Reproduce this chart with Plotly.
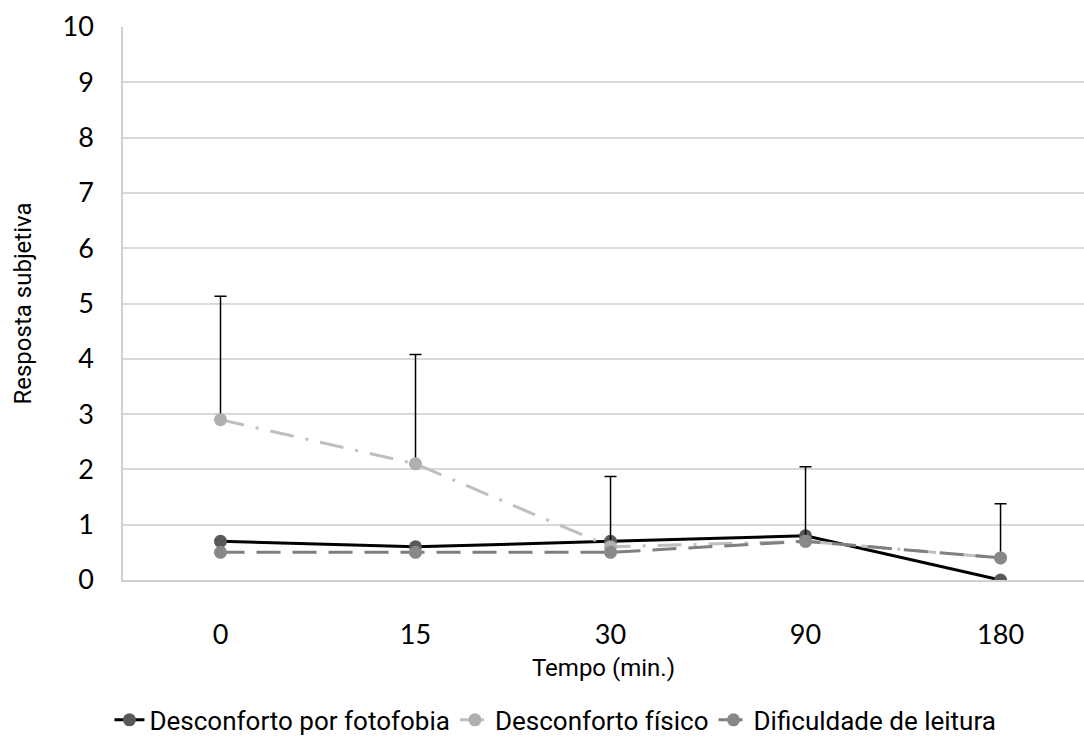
import plotly.graph_objects as go

categories = ["0", "15", "30", "90", "180"]
fotofobia = [0.7, 0.6, 0.7, 0.8, 0.0]
fisico = [2.9, 2.1, 0.6, 0.7, 0.4]
fisico_err = [2.23, 1.98, 1.27, 1.35, 0.98]
leitura = [0.5, 0.5, 0.5, 0.7, 0.4]
y_ticks = list(range(0, 11))

narrow = "Roboto, sans-serif"
tickfont = "Lato, Open Sans, sans-serif"

fig = go.Figure()
fig.add_trace(go.Scatter(
    x=categories, y=fotofobia, name="Desconforto por fotofobia",
    mode="lines+markers",
    line=dict(color="#000000", width=3),
    marker=dict(color="#595959", size=13),
))
fig.add_trace(go.Scatter(
    x=categories, y=fisico, name="Desconforto físico",
    mode="lines+markers",
    line=dict(color="#BFBFBF", width=3, dash="24px,12px,3px,12px"),
    marker=dict(color="#AFAFAF", size=13),
    error_y=dict(type="data", symmetric=False, array=fisico_err,
                 arrayminus=[0] * len(fisico_err), color="#000000",
                 thickness=1.5, width=6),
))
fig.add_trace(go.Scatter(
    x=categories, y=leitura, name="Dificuldade de leitura",
    mode="lines+markers",
    line=dict(color="#7F7F7F", width=3, dash="24px,12px"),
    marker=dict(color="#888888", size=13),
))

fig.update_layout(
    width=1084, height=738,
    margin=dict(l=123, r=0, t=27, b=158, autoexpand=False),
    paper_bgcolor="white", plot_bgcolor="white",
    showlegend=True,
    legend=dict(orientation="h", x=0.45, xanchor="center",
                y=-0.253, yanchor="middle",
                font=dict(family=narrow, size=26, color="#000000"),
                tracegroupgap=0),
    font=dict(family=tickfont, color="#000000"),
)
fig.update_xaxes(
    type="category", range=[-0.5, 4.428],
    showgrid=False, showline=True, linecolor="#D0D0D0", linewidth=1.5,
    ticks="", tickfont=dict(family=tickfont, size=27, color="#000000"),
    ticklabelstandoff=30,
    title=dict(text="Tempo (min.)", font=dict(family=narrow, size=24, color="#000000"), standoff=10),
)
fig.update_yaxes(
    range=[0, 10], tickvals=y_ticks, ticktext=[str(v) for v in y_ticks],
    showgrid=True, gridcolor="#D9D9D9", gridwidth=1.5,
    showline=True, linecolor="#D0D0D0", linewidth=1.5,
    zeroline=False, ticks="", ticklen=0,
    ticklabelstandoff=22,
    tickfont=dict(family=tickfont, size=27, color="#000000"),
    title=dict(text="Resposta subjetiva", font=dict(family=narrow, size=24, color="#000000"), standoff=24),
)

fig.write_html("out.html")
